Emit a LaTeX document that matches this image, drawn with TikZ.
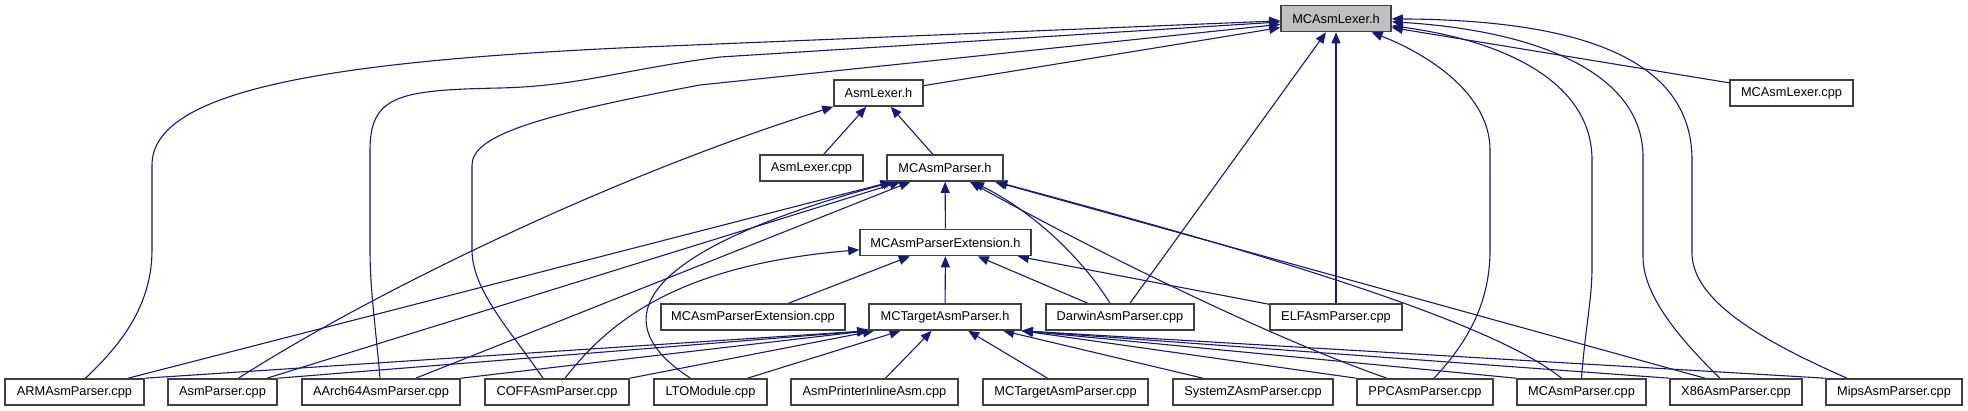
\documentclass[tikz,border=0pt]{standalone}
\usepackage{fontspec}
\setmainfont{Liberation Sans}
\usetikzlibrary{arrows.meta, calc, backgrounds}
\definecolor{edgeblue}{RGB}{25,25,112}
\definecolor{rootgray}{RGB}{191,191,191}

\begin{document}
\begin{tikzpicture}[x=0.5pt, y=-0.5pt,
  % one unit = one pixel of the reference, y pointing down
  filebox/.style={rectangle, draw=black!75, fill=white, line width=0.8pt,
                  minimum width=#1, minimum height=13pt, inner sep=0pt,
                  font=\fontsize{6.4}{7.7}\selectfont},
  rootbox/.style={filebox=#1, fill=rootgray},
  inc/.style={-{Triangle[length=5.5pt, width=4.5pt]}, draw=edgeblue,
              line width=0.55pt}
]
\useasboundingbox (0,0) rectangle (1968,411);

% Row 0 - the header itself
\node[rootbox=55pt] (mcasmlexerh) at (1336,18.5) {MCAsmLexer.h};

% Row 1
\node[filebox=44.5pt] (asmlexerh)     at (878.5,93)  {AsmLexer.h};
\node[filebox=61.5pt] (mcasmlexercpp) at (1791.5,93) {MCAsmLexer.cpp};

% Row 2
\node[filebox=51.5pt] (asmlexercpp)  at (811.5,168) {AsmLexer.cpp};
\node[filebox=58pt]   (mcasmparserh) at (945,168)   {MCAsmParser.h};

% Row 3
\node[filebox=85.5pt] (mcasmparserexth) at (945.5,242.5) {MCAsmParserExtension.h};

% Row 4
\node[filebox=92pt] (mcasmparserextcpp) at (753,317)  {MCAsmParserExtension.cpp};
\node[filebox=76pt] (mctgth)            at (945,317)  {MCTargetAsmParser.h};
\node[filebox=74pt] (darwin)            at (1120,317) {DarwinAsmParser.cpp};
\node[filebox=66pt] (elf)               at (1336,317) {ELFAsmParser.cpp};

% Row 5 - sources
\node[filebox=69.5pt] (arm)            at (74.5,392)   {ARMAsmParser.cpp};
\node[filebox=54.5pt] (asmparser)      at (222.5,392)  {AsmParser.cpp};
\node[filebox=79pt]   (aarch64)        at (381,392)    {AArch64AsmParser.cpp};
\node[filebox=72pt]   (coff)           at (557,392)    {COFFAsmParser.cpp};
\node[filebox=56.5pt] (lto)            at (710.5,392)  {LTOModule.cpp};
\node[filebox=83.5pt] (asmprinter)     at (874.5,392)  {AsmPrinterInlineAsm.cpp};
\node[filebox=82.5pt] (mctgtcpp)       at (1065.5,392) {MCTargetAsmParser.cpp};
\node[filebox=80pt]   (systemz)        at (1253,392)   {SystemZAsmParser.cpp};
\node[filebox=68pt]   (ppc)            at (1425,392)   {PPCAsmParser.cpp};
\node[filebox=64.5pt] (mcasmparsercpp) at (1581.5,392) {MCAsmParser.cpp};
\node[filebox=66pt]   (x86)            at (1736,392)   {X86AsmParser.cpp};
\node[filebox=68pt]   (mips)           at (1894,392)   {MipsAsmParser.cpp};

\begin{scope}[on background layer]
% Into MCAsmLexer.h
\foreach \src in {asmlexerh, mcasmlexercpp, darwin, elf}
  \draw[inc] (\src) -- (mcasmlexerh);
\draw[inc] ($(arm.north)+(11,0)$) .. controls (115,350) and (152,310) .. (152,250)
  -- (152,165) .. controls (152,90) and (330,62) .. (620,48) -- (mcasmlexerh);
\draw[inc] ($(aarch64.north)+(-1,0)$) .. controls (376,330) and (370,290) .. (370,250)
  -- (370,150) .. controls (370,95) and (400,90) .. (500,88)
  .. controls (580,86) and (620,70) .. (720,57) -- (mcasmlexerh);
\draw[inc] ($(coff.north)+(-14,0)$) .. controls (510,330) and (472,290) .. (472,250)
  -- (472,165) .. controls (472,135) and (540,115) .. (700,85) -- (mcasmlexerh);
\draw[inc] ($(ppc.north)+(9,0)$) .. controls (1470,340) and (1490,300) .. (1490,250)
  -- (1490,150) .. controls (1490,95) and (1430,55) .. (mcasmlexerh);
\draw[inc] (mcasmparsercpp.north) .. controls (1585,330) and (1592,300) .. (1592,267)
  -- (1592,160) .. controls (1592,80) and (1500,40) .. (mcasmlexerh);
\draw[inc] ($(x86.north)+(-16,0)$) .. controls (1670,330) and (1643,290) .. (1643,257)
  -- (1643,157) .. controls (1643,70) and (1530,30) .. (mcasmlexerh);
\draw[inc] ($(mips.north)+(-47,0)$) .. controls (1760,340) and (1692,300) .. (1692,253)
  -- (1692,160) .. controls (1692,50) and (1560,20) .. (mcasmlexerh);

% Into AsmLexer.h
\draw[inc] (asmlexercpp) -- (asmlexerh);
\draw[inc] (mcasmparserh) -- (asmlexerh);
\draw[inc] ($(asmparser.north)+(16,0)$) .. controls (360,300) and (600,180) .. (asmlexerh.south west);

% Into MCAsmParser.h
\foreach \src in {mcasmparserexth, arm, asmparser, aarch64}
  \draw[inc] (\src) -- (mcasmparserh);
\draw[inc] ($(x86.north)+(-31,0)$) -- (mcasmparserh);
\draw[inc] ($(mcasmparsercpp.north)+(-20,0)$) .. controls (1490,320) and (1250,250) .. (mcasmparserh);
\draw[inc] ($(ppc.north)+(-38,0)$) .. controls (1290,345) and (1120,265) .. (mcasmparserh);
\draw[inc] ($(lto.north)+(-20,0)$) .. controls (600,320) and (640,250) .. (mcasmparserh);
\draw[inc] ($(darwin.north)+(-10,0)$) .. controls (1080,255) and (1030,210) .. (mcasmparserh);

% Into MCAsmParserExtension.h
\foreach \src in {mcasmparserextcpp, mctgth, darwin, elf}
  \draw[inc] (\src) -- (mcasmparserexth);
\draw[inc] ($(coff.north)+(8,0)$) .. controls (610,320) and (680,265) .. (mcasmparserexth);

% Into MCTargetAsmParser.h
\foreach \src in {arm, asmparser, aarch64}
  \draw[inc] (\src.north east) -- (mctgth.south west);
\draw[inc] (coff.north east) -- (mctgth);
\draw[inc] ($(lto.north)+(37,0)$) -- (mctgth);
\draw[inc] ($(asmprinter.north)+(11,0)$) -- (mctgth);
\draw[inc] ($(mctgtcpp.north)+(-18,0)$) -- (mctgth);
\draw[inc] ($(systemz.north)+(-50,0)$) -- (mctgth);
\foreach \src in {ppc, mcasmparsercpp, x86, mips}
  \draw[inc] (\src.north west) -- (mctgth.south east);
\end{scope}

\end{tikzpicture}
\end{document}
